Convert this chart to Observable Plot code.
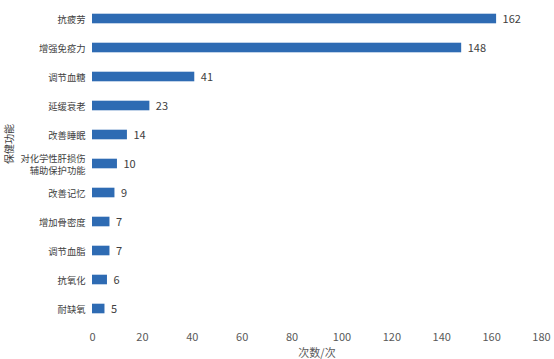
<!DOCTYPE html>
<html><head><meta charset="utf-8">
<script src="https://cdn.jsdelivr.net/npm/d3@7"></script>
<script src="https://cdn.jsdelivr.net/npm/@observablehq/plot@0.6"></script>
<style>body{margin:0;background:#fff;} svg{display:block;}</style>
</head><body><div id="chart"></div>
<script>
const categories = ["抗疲劳","增强免疫力","调节血糖","延缓衰老","改善睡眠","对化学性肝损伤\n辅助保护功能","改善记忆","增加骨密度","调节血脂","抗氧化","耐缺氧"];
const counts = [162,148,41,23,14,10,9,7,7,6,5];
const xTicks = [0,20,40,60,80,100,120,140,160,180];
const data = categories.map((c,i)=>({name:c, value:counts[i]}));
const font = "'Noto Sans CJK SC', 'Open Sans', sans-serif";
const chart = Plot.plot({
  width: 554, height: 359,
  marginLeft: 92, marginRight: 13, marginTop: 1, marginBottom: 33,
  style: {fontFamily: font, fontSize: "10px", color: "#595959", background: "#fff"},
  x: {domain: [0,180], ticks: xTicks},
  y: {domain: categories, padding: 0},
  marks: [
    Plot.gridX(xTicks, {stroke: "#d9d9d9", strokeOpacity: 1, y1: 0, y2: 326}),
    Plot.barX(data, {x: "value", y: "name", fill: "#2e6bb3", insetTop: 9.7, insetBottom: 9.7}),
    Plot.text(data, {x: "value", y: "name", text: d => String(d.value), dx: 6, textAnchor: "start", fill: "#404040", fontSize: 11}),
    Plot.axisX({ticks: xTicks, tickSize: 0, tickPadding: 7, fontSize: 11, label: "次数/次", labelAnchor: "center", labelArrow: "none", labelOffset: 30, color: "#595959"}),
    Plot.axisY({tickSize: 0, tickPadding: 7, fontSize: 9.3, lineHeight: 1.35, label: null, color: "#404040"}),
    Plot.text(["保健功能"], {frameAnchor: "left", dx: -83, rotate: -90, fontSize: 10, fill: "#404040"})
  ]
});
document.getElementById("chart").append(chart);
</script></body></html>
